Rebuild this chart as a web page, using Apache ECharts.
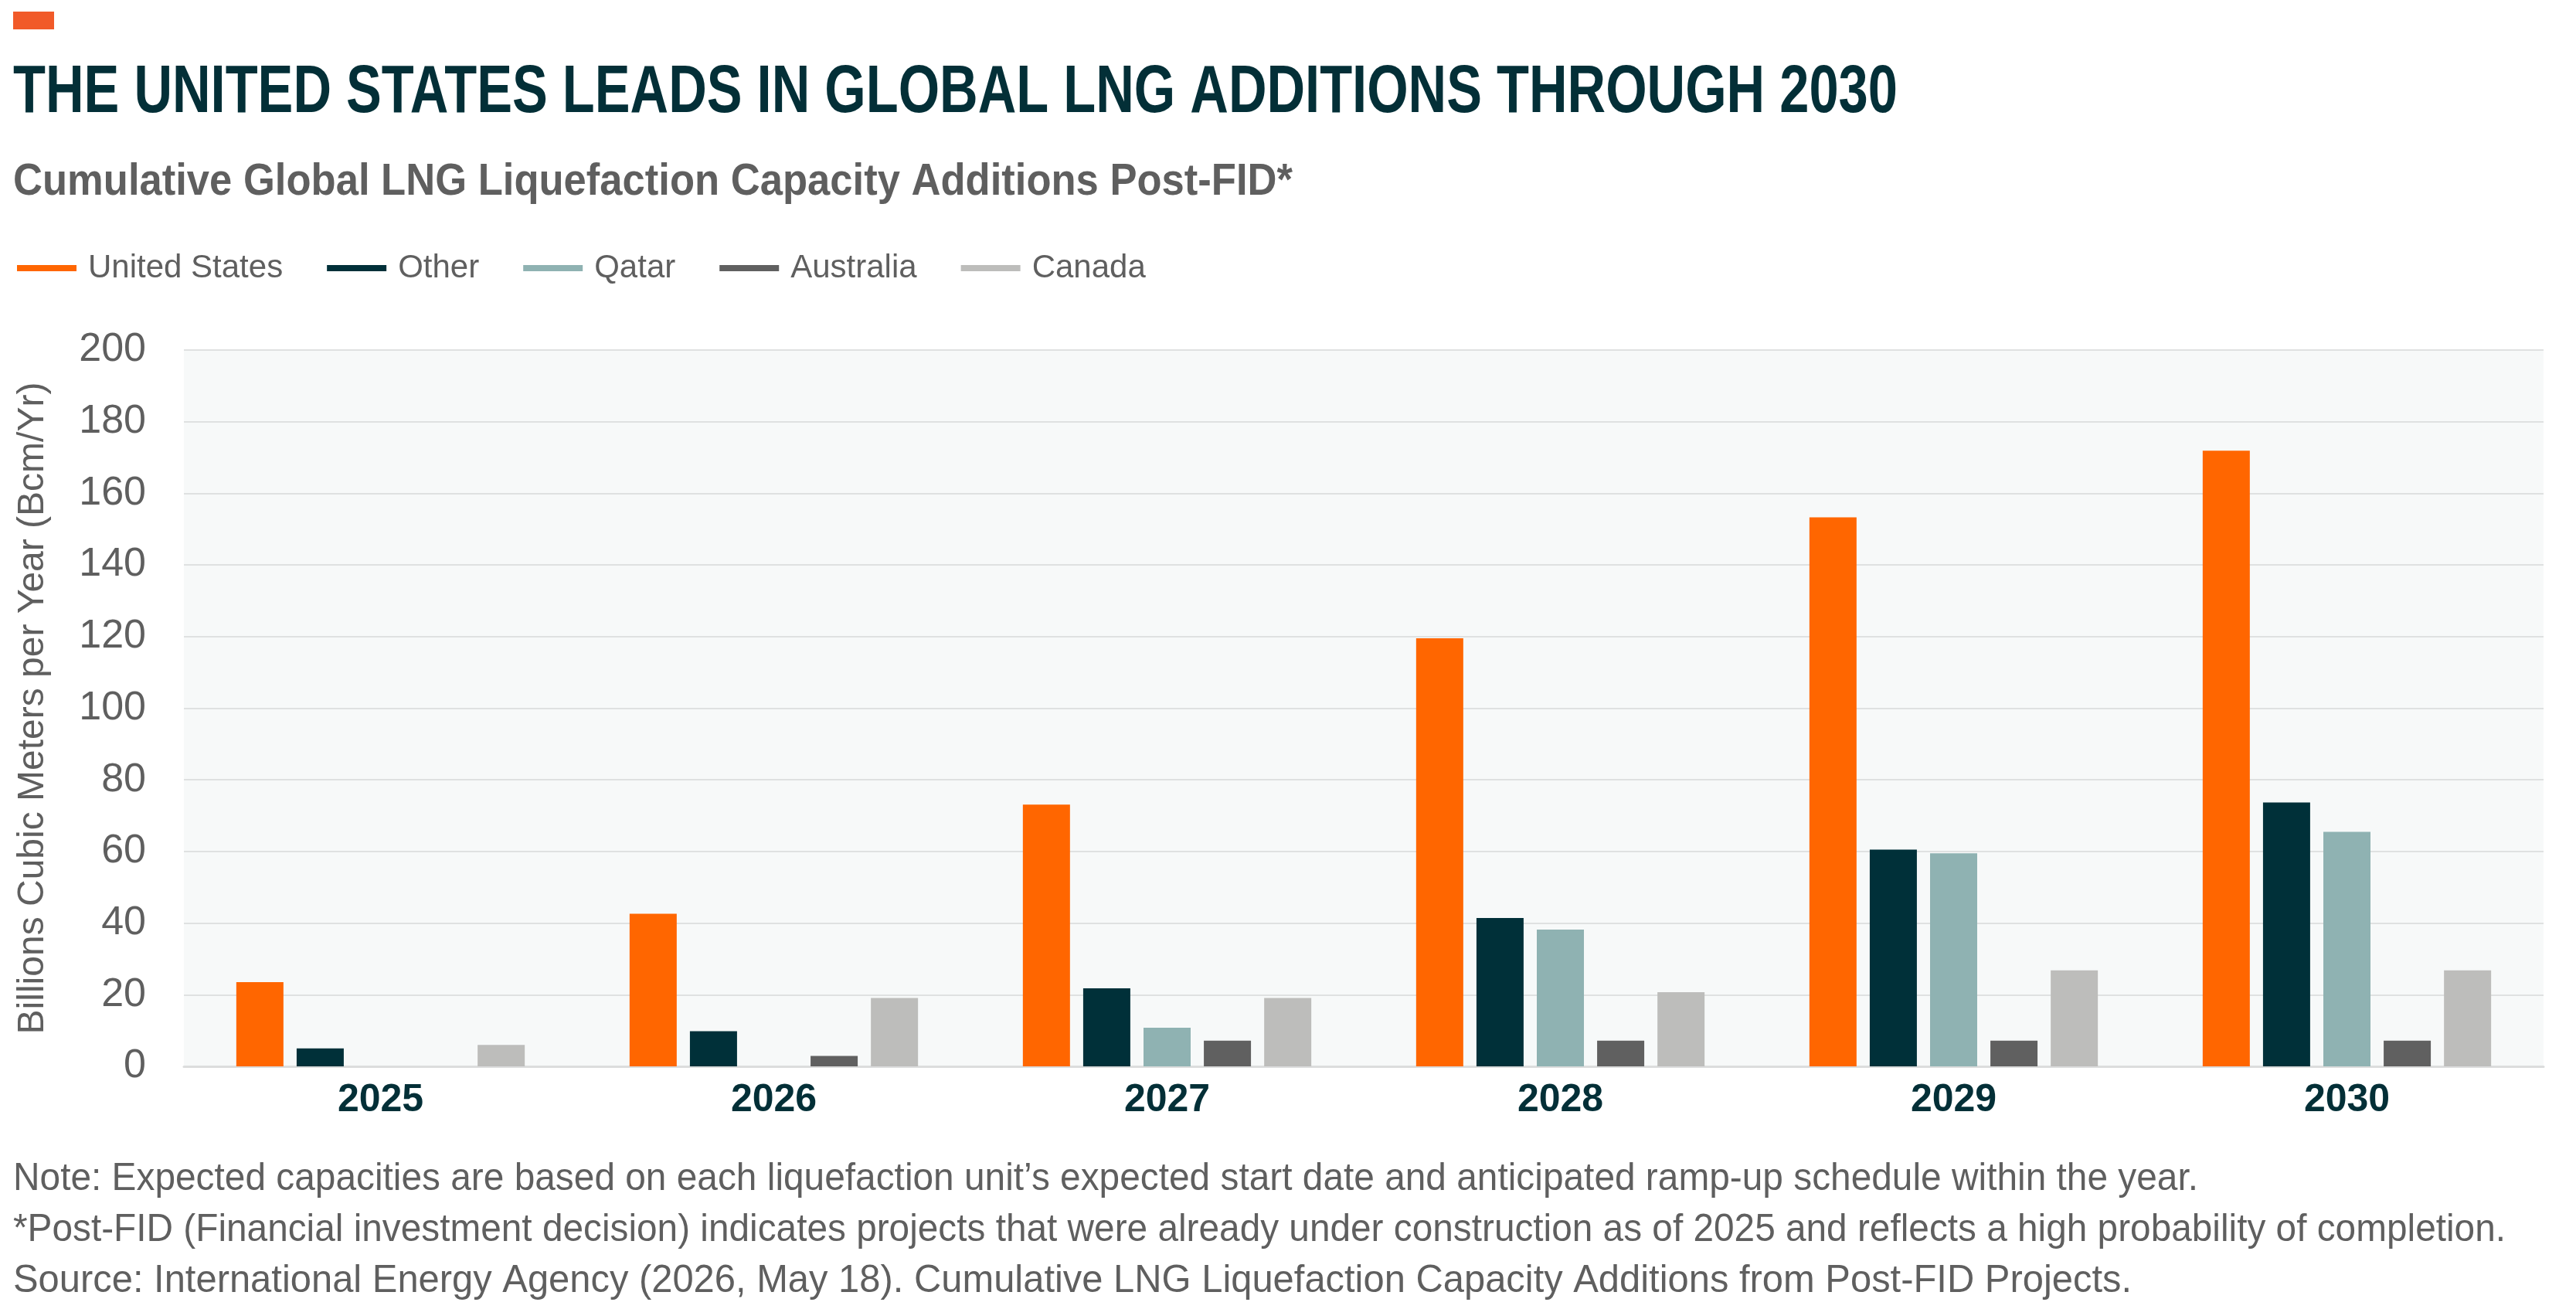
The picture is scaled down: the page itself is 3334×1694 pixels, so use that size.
<!DOCTYPE html>
<html>
<head>
<meta charset="utf-8">
<script src="https://cdn.jsdelivr.net/npm/echarts@6/dist/echarts.min.js"></script>
<style>
  html, body { margin: 0; padding: 0; background: #ffffff; }
  #chart { width: 3334px; height: 1694px; }
</style>
</head>
<body>
<div id="chart"></div>
<script>
// ---- Data ----
const categories = ['2025', '2026', '2027', '2028', '2029', '2030'];
const unitedStates = [23.5, 42.6, 73.1, 119.5, 153.3, 171.9];
const other = [5.0, 9.8, 21.8, 41.4, 60.5, 73.7];
const qatar = [0, 0, 10.8, 38.2, 59.5, 65.5];
const australia = [0, 2.9, 7.2, 7.2, 7.2, 7.2];
const canada = [6.0, 19.1, 19.1, 20.7, 26.8, 26.8];
const seriesNames = ['United States', 'Other', 'Qatar', 'Australia', 'Canada'];
const yTicks = [0, 20, 40, 60, 80, 100, 120, 140, 160, 180, 200];

const titleText = 'THE UNITED STATES LEADS IN GLOBAL LNG ADDITIONS THROUGH 2030';
const subtitleText = 'Cumulative Global LNG Liquefaction Capacity Additions Post-FID*';
const yAxisTitle = 'Billions Cubic Meters per Year (Bcm/Yr)';
const notes = [
  'Note: Expected capacities are based on each liquefaction unit\u2019s expected start date and anticipated ramp-up schedule within the year.',
  '*Post-FID (Financial investment decision) indicates projects that were already under construction as of 2025 and reflects a high probability of completion.',
  'Source: International Energy Agency (2026, May 18). Cumulative LNG Liquefaction Capacity Additions from Post-FID Projects.'
];

// ---- Styling ----
const colors = ['#ff6600', '#003039', '#8fb2b2', '#606060', '#bdbdbb'];
const dark = '#032f37';
const gray = '#5f5f5f';

const measureCtx = document.createElement('canvas').getContext('2d');
function fitScale(text, font, target) {
  measureCtx.font = font;
  const w = measureCtx.measureText(text).width;
  return w > 0 ? target / w : 1;
}

const titleFont = 'bold 88px "Liberation Sans Narrow", "Liberation Sans", sans-serif';
const subFont = 'bold 58px "Liberation Sans", sans-serif';
const noteFont = '50px "Liberation Sans", sans-serif';
const noteTargets = [2828, 3226, 2742];
const noteYs = [1526, 1592, 1658];

const graphics = [
  { type: 'rect', shape: { x: 17, y: 15, width: 53, height: 23 }, style: { fill: '#f15a29' } },
  { type: 'text', x: 17, y: 121, scaleX: fitScale(titleText, titleFont, 2439),
    style: { text: titleText, font: titleFont, fill: dark, verticalAlign: 'middle', align: 'left' } },
  { type: 'text', x: 17, y: 236, scaleX: fitScale(subtitleText, subFont, 1656),
    style: { text: subtitleText, font: subFont, fill: gray, verticalAlign: 'middle', align: 'left' } }
];
notes.forEach((t, i) => {
  graphics.push({ type: 'text', x: 17, y: noteYs[i], scaleX: fitScale(t, noteFont, noteTargets[i]),
    style: { text: t, font: noteFont, fill: gray, verticalAlign: 'middle', align: 'left' } });
});

const seriesData = [unitedStates, other, qatar, australia, canada];

const chart = echarts.init(document.getElementById('chart'), null, { renderer: 'canvas' });
chart.setOption({
  backgroundColor: '#ffffff',
  animation: false,
  color: colors,
  graphic: graphics,
  legend: {
    left: 17,
    top: 321,
    icon: 'rect',
    itemWidth: 77,
    itemHeight: 8,
    itemGap: 57,
    data: seriesNames,
    textStyle: {
      fontFamily: '"Liberation Sans", sans-serif',
      fontSize: 42,
      color: gray,
      lineHeight: 42,
      padding: [0, 0, 0, 10]
    }
  },
  grid: {
    left: 238,
    right: 42,
    top: 453,
    bottom: 314,
    show: true,
    backgroundColor: '#f7f9f9',
    borderWidth: 0,
    containLabel: false,
    outerBoundsMode: 'none'
  },
  xAxis: {
    type: 'category',
    data: categories,
    axisTick: { show: false },
    axisLine: { show: true, lineStyle: { color: '#dcdddd', width: 3 } },
    axisLabel: {
      margin: 19,
      fontFamily: '"Liberation Sans", sans-serif',
      fontWeight: 'bold',
      fontSize: 50,
      color: dark
    }
  },
  yAxis: {
    type: 'value',
    min: yTicks[0],
    max: yTicks[yTicks.length - 1],
    interval: yTicks[1] - yTicks[0],
    name: yAxisTitle,
    nameLocation: 'middle',
    nameRotate: 90,
    nameGap: 171,
    nameTextStyle: {
      fontFamily: '"Liberation Sans Narrow", "Liberation Sans", sans-serif',
      fontSize: 48,
      color: gray
    },
    axisLine: { show: false },
    axisTick: { show: false },
    splitLine: { show: true, lineStyle: { color: '#dfe1e1', width: 2 } },
    axisLabel: {
      margin: 49,
      fontFamily: '"Liberation Sans", sans-serif',
      fontSize: 52,
      color: gray
    }
  },
  series: seriesNames.map((name, i) => ({
    name: name,
    type: 'bar',
    data: seriesData[i],
    barWidth: 61,
    barGap: '28%',
    itemStyle: { color: colors[i] }
  }))
});
</script>
</body>
</html>
